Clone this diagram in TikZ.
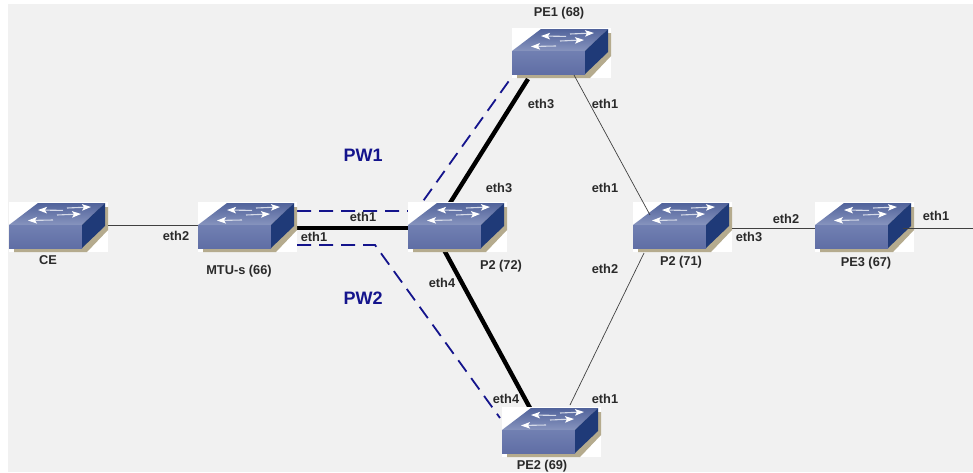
\documentclass[tikz,border=0pt]{standalone}
\usepackage{fontspec}
\setmainfont{Liberation Sans}
\usetikzlibrary{calc,arrows.meta}
\definecolor{pagebg}{HTML}{F1F1F1}
\definecolor{swfront}{HTML}{7180B2}
\definecolor{swfrontlo}{HTML}{606EA5}
\definecolor{swtoplo}{HTML}{8794BE}
\definecolor{swtophi}{HTML}{51639B}
\definecolor{swside}{HTML}{1F3A78}
\definecolor{swshadow}{HTML}{B5AB8E}
\definecolor{pwblue}{HTML}{14148C}
\definecolor{lbl}{HTML}{2A2A2A}
\pgfdeclarelayer{bg}
\pgfdeclarelayer{links}
\pgfsetlayers{bg,links,main}
\tikzset{
  swbox/.style={rectangle,fill=white,draw=none,inner sep=0pt,minimum width=99pt,minimum height=50pt},
  lab/.style={text=lbl,inner sep=0pt,font=\bfseries\fontsize{12.8}{14}\selectfont},
  pwlab/.style={text=pwblue,inner sep=0pt,font=\bfseries\fontsize{18}{20}\selectfont},
  thinlink/.style={draw=black!75,line width=0.7pt},
  thicklink/.style={draw=black,line width=4.4pt},
  pwlink/.style={draw=pwblue,line width=1.8pt,dash pattern=on 14pt off 8pt},
  swarrow/.style={draw=white!65!swtoplo,line width=1.1pt,-{Stealth[length=9pt,width=6.5pt,inset=2pt,color=white]}}
}
\newcommand{\swt}[3]{%
\begin{scope}[shift={(#2,#3)}]
  \node[swbox] (#1) at (49.5,25) {};
  \fill[swshadow] (5,40) -- (5,50) -- (78,50) -- (99,28) -- (99,5) -- (90,5) -- cycle;
  \shade[top color=swtophi,bottom color=swtoplo] (0,23) -- (29,1) -- (96,1) -- (73,23) -- cycle;
  \shade[top color=swfront,bottom color=swfrontlo] (0,23) -- (73,23) -- (73,46) -- (0,46) -- cycle;
  \fill[swside] (73,23) -- (96,1) -- (96,24) -- (73,46) -- cycle;
  \draw[swarrow] (54,8.4) -- (29,8);
  \draw[swarrow] (58,6) -- (82,5);
  \draw[swarrow] (44,18) -- (19,18.5);
  \draw[swarrow] (48,13) -- (72,12);
\end{scope}}
\begin{document}
\begin{tikzpicture}[x=1pt,y=-1pt]
\useasboundingbox (0,0) rectangle (973,472);
\begin{pgfonlayer}{bg}
  \fill[white] (0,0) rectangle (973,472);
  \fill[pagebg] (8,4) rectangle (973,472);
\end{pgfonlayer}
\swt{ce}{9}{202}
\swt{mtu}{198}{202}
\swt{pa}{408}{202}
\swt{pea}{512}{28}
\swt{peb}{502}{407}
\swt{pb}{633}{202}
\swt{pec}{815}{202}
\coordinate (rightend) at (973,228);
\begin{pgfonlayer}{links}
  \draw[thicklink] ([yshift=-1pt]mtu.east) -- ([yshift=-1pt]pa.west);
  \draw[thicklink] ([xshift=-7.5pt,yshift=24pt]pa.center) -- ([xshift=-33.5pt,yshift=-26pt]pea.center);
  \draw[thicklink] ([xshift=-14.5pt,yshift=-21pt]pa.center) -- ([xshift=-21.5pt,yshift=24pt]peb.center);
  \draw[pwlink] ([yshift=16pt]mtu.east) -- ([xshift=-41.5pt,yshift=16pt]pa.center) -- ([xshift=-50.5pt,yshift=-25pt]pea.center);
  \draw[pwlink] ([yshift=-18pt]mtu.east) -- ([xshift=-82.5pt,yshift=-18pt]pa.center) -- ([xshift=-51.5pt,yshift=14pt]peb.center);
\end{pgfonlayer}
\draw[thinlink] ([yshift=2pt]ce.east) -- ([yshift=2pt]mtu.west);
\draw[thinlink] ([xshift=12.5pt,yshift=-22pt]pea.center) -- ([xshift=-32.5pt,yshift=12pt]pb.center);
\draw[thinlink] ([xshift=-38.5pt,yshift=-26pt]pb.center) -- ([xshift=18.5pt,yshift=27pt]peb.center);
\draw[thinlink] ([yshift=-1pt]pb.east) -- ([yshift=-1pt]pec.west);
\draw[thinlink] ([xshift=38.5pt,yshift=-1pt]pec.center) -- (rightend);
\node[lab] (t1) at (48,260) {CE};
\node[lab] (t2) at (176,236) {eth2};
\node[lab] (t3) at (239,271) {MTU-s (66)};
\node[lab] (t4) at (363,217) {eth1};
\node[lab] (t5) at (314,237) {eth1};
\node[lab] (t6) at (501,266) {P2 (72)};
\node[lab] (t7) at (499,188) {eth3};
\node[lab] (t8) at (541,104) {eth3};
\node[lab] (t9) at (605,104) {eth1};
\node[lab] (t10) at (605,188) {eth1};
\node[lab] (t11) at (605,269) {eth2};
\node[lab] (t12) at (442,283) {eth4};
\node[lab] (t13) at (506,399) {eth4};
\node[lab] (t14) at (605,399) {eth1};
\node[lab] (t15) at (559,13) {PE1 (68)};
\node[lab] (t16) at (542,466) {PE2 (69)};
\node[lab] (t17) at (681,262) {P2 (71)};
\node[lab] (t18) at (749,237) {eth3};
\node[lab] (t19) at (786,219) {eth2};
\node[lab] (t20) at (866,263) {PE3 (67)};
\node[lab] (t21) at (936,216) {eth1};
\node[pwlab] (t22) at (363,155) {PW1};
\node[pwlab] (t23) at (363,298) {PW2};
\end{tikzpicture}
\end{document}
